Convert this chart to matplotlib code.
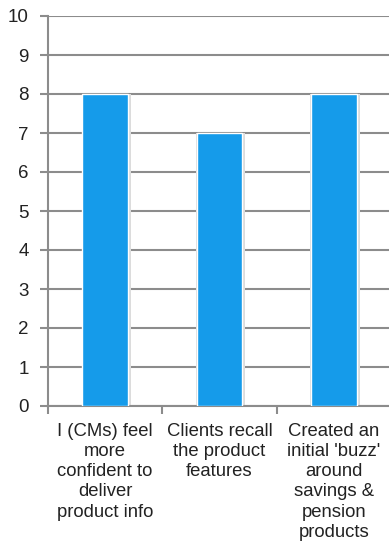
import numpy as np
import matplotlib.pyplot as plt

categories = ["I (CMs) feel\nmore\nconfident to\ndeliver\nproduct info",
              "Clients recall\nthe product\nfeatures",
              "Created an\ninitial 'buzz'\naround\nsavings &\npension\nproducts"]
values = [8, 7, 8]
yticks = list(range(0, 11))

plt.rcParams['font.family'] = ['Liberation Sans', 'DejaVu Sans']

fig = plt.figure(figsize=(3.89, 5.46), dpi=100)
ax = fig.add_axes([48 / 389, 1 - 406 / 546, 343 / 389, 390 / 546])

x = np.arange(len(categories))
# soft shadow behind the bars
ax.bar(x + 0.01, values, width=0.43, color='#dcdcdc', zorder=2)
ax.bar(x, values, width=0.40, color='#159bea', edgecolor='white', linewidth=1.0, zorder=3)

ax.set_xlim(-0.5, 2.5)
ax.set_ylim(0, 10)
ax.set_yticks(yticks)
ax.yaxis.grid(True, color='#8c8c8c', linewidth=1.5, zorder=1)
ax.set_axisbelow(True)

ax.set_xticks([-0.5, 0.5, 1.5, 2.5])
ax.set_xticklabels([])
ax.set_xticks(x, minor=True)
ax.set_xticklabels(categories, minor=True, fontsize=13.3, color='#222222', linespacing=1.25, va='top')
ax.tick_params(axis='x', which='minor', length=0, pad=12)
ax.tick_params(axis='x', which='major', length=6, width=1.5, color='#8c8c8c')
ax.tick_params(axis='y', length=6, width=1.5, color='#8c8c8c', labelsize=13.5, labelcolor='#222222', pad=8)

for s in ['top', 'right']:
    ax.spines[s].set_visible(False)
for s in ['left', 'bottom']:
    ax.spines[s].set_color('#8c8c8c')
    ax.spines[s].set_linewidth(1.5)

fig.savefig('out.png', dpi=100)
